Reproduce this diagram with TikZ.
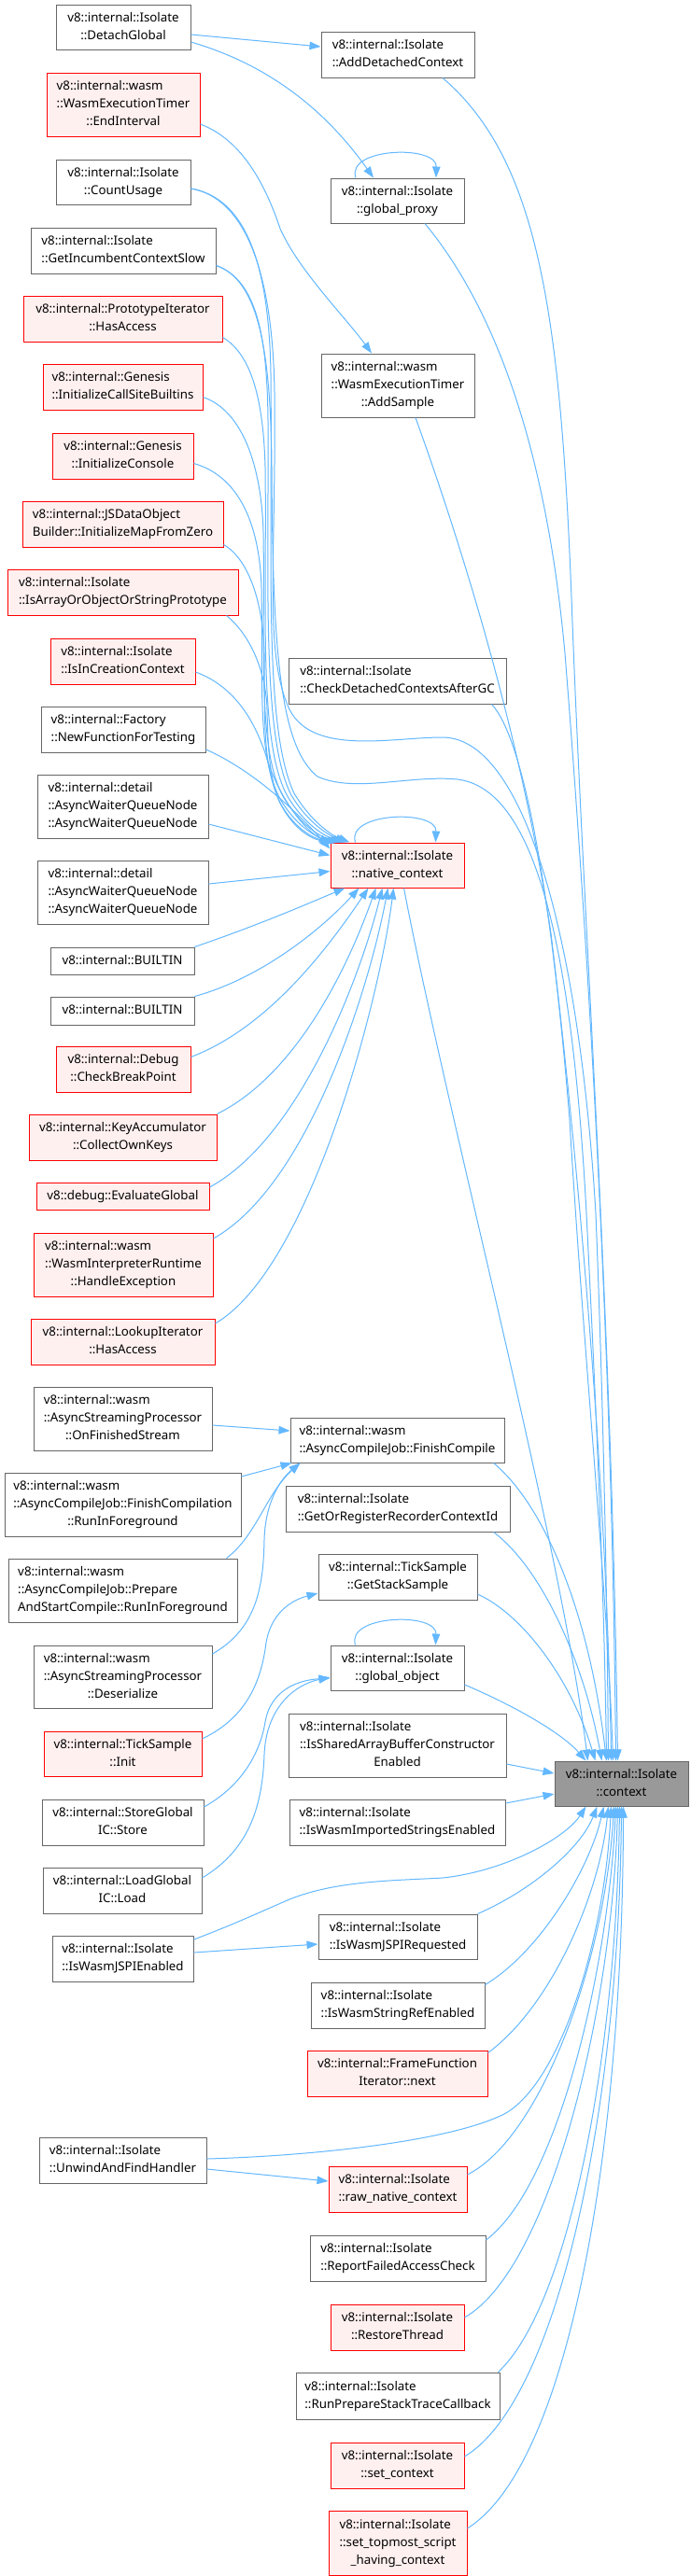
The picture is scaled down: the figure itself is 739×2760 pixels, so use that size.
\documentclass[tikz,border=0pt]{standalone}
\usepackage{fontspec}
\setmainfont{Noto Sans}
\usetikzlibrary{arrows.meta}
\definecolor{edgec}{HTML}{63B8FF}
\definecolor{bordg}{HTML}{666666}
\definecolor{redfill}{HTML}{FFF0F0}
\definecolor{ctxfill}{HTML}{999999}
\newcommand{\tb}[1]{\begin{tabular}{@{}l@{}}#1\end{tabular}}
\newcommand{\lc}[1]{\multicolumn{1}{@{}c@{}}{#1}}
\newcommand{\nd}[6]{\node[#1,minimum width=#4pt,minimum height=#5pt] (#2) at (#3) {\tb{#6}};}
\begin{document}
\begin{tikzpicture}[x=1pt,y=-1pt,
  nb/.style={draw=bordg,fill=white,line width=1pt,inner sep=0pt,font=\fontsize{13.3}{19}\selectfont},
  nr/.style={nb,draw=red,fill=redfill},
  ng/.style={nb,fill=ctxfill},
  ed/.style={draw=edgec,line width=1pt,-{Triangle[length=12pt,width=8.5pt]}}]
\useasboundingbox[fill=white] (0,0) rectangle (739,2760);
% column 1
\nd{nb}{dg}{132,29}{144}{48}{v8::internal::Isolate\\\lc{::DetachGlobal}}
\nd{nr}{ei}{132,112}{164}{68}{v8::internal::wasm\\::WasmExecutionTimer\\\lc{::EndInterval}}
\nd{nb}{cu}{132,195}{144}{48}{v8::internal::Isolate\\\lc{::CountUsage}}
\nd{nb}{gi}{132,268.5}{198}{49}{v8::internal::Isolate\\\lc{::GetIncumbentContextSlow}}
\nd{nr}{pi}{131.5,341.5}{213}{49}{v8::internal::PrototypeIterator\\\lc{::HasAccess}}
\nd{nr}{cs}{131.5,414.5}{171}{49}{v8::internal::Genesis\\\lc{::InitializeCallSiteBuiltins}}
\nd{nr}{ic}{131.5,488.5}{151}{49}{v8::internal::Genesis\\\lc{::InitializeConsole}}
\nd{nr}{jd}{131.5,561.5}{215}{49}{v8::internal::JSDataObject\\\lc{Builder::InitializeMapFromZero}}
\nd{nr}{ia}{131.5,634.5}{247}{49}{v8::internal::Isolate\\\lc{::IsArrayOrObjectOrStringPrototype}}
\nd{nr}{icc}{131.5,708.5}{155}{49}{v8::internal::Isolate\\\lc{::IsInCreationContext}}
\nd{nb}{nf}{132,781.5}{176}{49}{v8::internal::Factory\\\lc{::NewFunctionForTesting}}
\nd{nb}{aw1}{131.5,864}{183}{68}{v8::internal::detail\\::AsyncWaiterQueueNode\\\lc{::AsyncWaiterQueueNode}}
\nd{nb}{aw2}{131.5,956}{183}{68}{v8::internal::detail\\::AsyncWaiterQueueNode\\\lc{::AsyncWaiterQueueNode}}
\nd{nb}{b1}{131,1029.5}{154}{29}{v8::internal::BUILTIN}
\nd{nb}{b2}{131,1083}{154}{30}{v8::internal::BUILTIN}
\nd{nr}{cb}{132,1145.5}{144}{49}{v8::internal::Debug\\\lc{::CheckBreakPoint}}
\nd{nr}{ka}{131.5,1218.5}{201}{49}{v8::internal::KeyAccumulator\\\lc{::CollectOwnKeys}}
\nd{nr}{eg}{131.5,1281.5}{185}{29}{v8::debug::EvaluateGlobal}
\nd{nr}{wi}{132,1355}{192}{68}{v8::internal::wasm\\::WasmInterpreterRuntime\\\lc{::HandleException}}
\nd{nr}{li}{131.5,1437.5}{197}{49}{v8::internal::LookupIterator\\\lc{::HasAccess}}
\nd{nb}{ofs}{131.5,1520}{191}{68}{v8::internal::wasm\\::AsyncStreamingProcessor\\\lc{::OnFinishedStream}}
\nd{nb}{fcr}{131.5,1612}{253}{68}{v8::internal::wasm\\::AsyncCompileJob::FinishCompilation\\\lc{::RunInForeground}}
\nd{nb}{pas}{131.5,1704}{245}{68}{v8::internal::wasm\\::AsyncCompileJob::Prepare\\\lc{AndStartCompile::RunInForeground}}
\nd{nb}{ds}{131.5,1796.5}{191}{67}{v8::internal::wasm\\::AsyncStreamingProcessor\\\lc{::Deserialize}}
\nd{nr}{ti}{131.5,1879}{169}{48}{v8::internal::TickSample\\\lc{::Init}}
\nd{nb}{sg}{131.5,1952.5}{173}{49}{v8::internal::StoreGlobal\\\lc{IC::Store}}
\nd{nb}{lg}{131,2025.5}{170}{49}{v8::internal::LoadGlobal\\\lc{IC::Load}}
\nd{nb}{je}{131.5,2098.5}{151}{49}{v8::internal::Isolate\\\lc{::IsWasmJSPIEnabled}}
\nd{nb}{uf}{131.5,2314.5}{179}{49}{v8::internal::Isolate\\\lc{::UnwindAndFindHandler}}
% column 2
\nd{nb}{ad}{426,58.5}{164}{49}{v8::internal::Isolate\\\lc{::AddDetachedContext}}
\nd{nb}{gp}{425.5,215}{143}{48}{v8::internal::Isolate\\\lc{::global\_proxy}}
\nd{nb}{as}{426,413}{164}{68}{v8::internal::wasm\\::WasmExecutionTimer\\\lc{::AddSample}}
\nd{nb}{cd}{425.5,729.5}{233}{49}{v8::internal::Isolate\\\lc{::CheckDetachedContextsAfterGC}}
\nd{nr}{nc}{425.5,927}{143}{48}{v8::internal::Isolate\\\lc{::native\_context}}
\nd{nb}{fc}{425.5,1543}{229}{48}{v8::internal::wasm\\\lc{::AsyncCompileJob::FinishCompile}}
\nd{nb}{gr}{426,1616.5}{240}{49}{v8::internal::Isolate\\\lc{::GetOrRegisterRecorderContextId}}
\nd{nb}{gs}{426,1689.5}{170}{49}{v8::internal::TickSample\\\lc{::GetStackSample}}
\nd{nb}{go}{425.5,1787}{143}{48}{v8::internal::Isolate\\\lc{::global\_object}}
\nd{nb}{sab}{425.5,1870}{233}{68}{v8::internal::Isolate\\::IsSharedArrayBufferConstructor\\\lc{Enabled}}
\nd{nb}{iws}{425.5,1952.5}{231}{49}{v8::internal::Isolate\\\lc{::IsWasmImportedStringsEnabled}}
\nd{nb}{jr}{426,2075}{170}{48}{v8::internal::Isolate\\\lc{::IsWasmJSPIRequested}}
\nd{nb}{sr}{426,2148.5}{186}{49}{v8::internal::Isolate\\\lc{::IsWasmStringRefEnabled}}
\nd{nr}{ff}{425.5,2221.5}{193}{49}{v8::internal::FrameFunction\\\lc{Iterator::next}}
\nd{nr}{rn}{426,2345.5}{148}{49}{v8::internal::Isolate\\\lc{::raw\_native\_context}}
\nd{nb}{rf}{426,2419.5}{188}{49}{v8::internal::Isolate\\\lc{::ReportFailedAccessCheck}}
\nd{nr}{rt}{425.5,2493.5}{143}{49}{v8::internal::Isolate\\\lc{::RestoreThread}}
\nd{nb}{rp}{426,2567}{218}{50}{v8::internal::Isolate\\\lc{::RunPrepareStackTraceCallback}}
\nd{nr}{sc}{425.5,2641.5}{143}{49}{v8::internal::Isolate\\\lc{::set\_context}}
\nd{nr}{st}{426,2724.5}{148}{69}{v8::internal::Isolate\\::set\_topmost\_script\\\lc{\_having\_context}}
% column 3
\nd{ng}{ctx}{665.5,1911}{143}{48}{v8::internal::Isolate\\\lc{::context}}
% ---------- edges: top part
\draw[ed] ([yshift=-8pt]dg.east) -- ([yshift=8.5pt]ad.west);
\draw[ed] ([yshift=-16pt]dg.east) .. controls (290,70) and (350,120) .. ([xshift=-25.5pt]gp.north);
\draw[ed] ([xshift=-44.5pt]gp.north) .. controls (370,158) and (468,155) .. ([xshift=41.5pt]gp.north);
\draw[ed] ([xshift=48pt]ad.south) .. controls (575,170) and (600,330) .. (612,640) .. controls (625,1000) and (655,1400) .. ([xshift=68pt]ctx.north west);
\draw[ed] ([xshift=29.5pt]gp.south) .. controls (530,330) and (585,480) .. (605,700) .. controls (625,950) and (655,1400) .. ([xshift=66pt]ctx.north west);
\draw[ed] ([yshift=-21pt]ei.east) .. controls (260,150) and (285,200) .. (300,245) .. controls (320,290) and (370,340) .. ([xshift=-28pt]as.north);
\draw[ed] ([xshift=19pt]as.south) .. controls (500,600) and (560,800) .. (590,1000) .. controls (620,1250) and (650,1600) .. ([xshift=61pt]ctx.north west);
\draw[ed] ([xshift=-16pt]cd.south east) .. controls (560,790) and (590,950) .. (610,1200) .. controls (625,1450) and (650,1700) .. ([xshift=63pt]ctx.north west);
% wavy edges to context
\draw[ed] ([yshift=-7pt]cu.east) .. controls (262,212) and (292,290) .. (294,420) .. controls (296,600) and (282,700) .. (310,760) .. controls (335,810) and (420,790) .. (474,790) .. controls (560,790) and (620,1000) .. (638,1300) .. controls (646,1500) and (650,1700) .. ([xshift=58pt]ctx.north west);
\draw[ed] ([yshift=-16pt]gi.east) .. controls (278,300) and (290,380) .. (291,500) .. controls (292,700) and (300,800) .. (340,832) .. controls (380,850) and (440,830) .. (490,835) .. controls (570,845) and (612,1000) .. (628,1300) .. controls (638,1500) and (647,1700) .. ([xshift=56pt]ctx.north west);
% into native_context from above
\draw[ed] ([yshift=-7pt]cu.east) .. controls (262,212) and (288,280) .. (290,400) .. controls (292,600) and (282,780) .. (315,850) .. controls (333,880) and (355,895) .. ([xshift=21pt]nc.north west);
\draw[ed] ([yshift=-16pt]gi.east) .. controls (275,300) and (286,360) .. (287,450) .. controls (288,620) and (280,790) .. (312,852) .. controls (330,882) and (352,895) .. ([xshift=18pt]nc.north west);
\draw[ed] ([yshift=-20pt]pi.east) .. controls (270,380) and (282,430) .. (284,500) .. controls (286,650) and (276,800) .. (309,855) .. controls (327,884) and (348,896) .. ([xshift=15pt]nc.north west);
\draw[ed] ([yshift=-11pt]cs.east) .. controls (260,440) and (280,500) .. (282,570) .. controls (284,700) and (275,810) .. (306,858) .. controls (324,886) and (344,897) .. ([xshift=12pt]nc.north west);
\draw[ed] ([yshift=-8pt]ic.east) .. controls (255,510) and (278,560) .. (280,630) .. controls (282,730) and (274,815) .. (303,861) .. controls (320,887) and (340,898) .. ([xshift=9pt]nc.north west);
\draw[ed] ([yshift=-22pt]jd.east) .. controls (268,600) and (282,650) .. (283,700) .. controls (284,770) and (280,820) .. (301,862) .. controls (316,888) and (336,899) .. ([xshift=6pt]nc.north west);
\draw[ed] ([xshift=-13pt]ia.south east) .. controls (268,680) and (285,720) .. (286,760) .. controls (287,810) and (290,845) .. (303,866) .. controls (315,887) and (332,899) .. ([xshift=3pt]nc.north west);
\draw[ed] ([yshift=-11.5pt]icc.east) .. controls (250,735) and (272,770) .. (285,810) .. controls (295,845) and (320,885) .. ([yshift=-2pt]nc.north west);
\draw[ed] ([yshift=-21.5pt]nf.east) .. controls (255,818) and (300,850) .. ([yshift=-7pt]nc.north west);
\draw[ed] ([yshift=-19pt]aw1.east) -- ([yshift=-14pt]nc.north west);
\draw[ed] ([yshift=9pt]aw2.east) -- ([yshift=-31pt]nc.north west);
\draw[ed] ([xshift=27pt]nc.north west) .. controls (370,870) and (468,867) .. ([xshift=113pt]nc.north west);
% into native_context from below
\draw[ed] (b1.north east) .. controls (280,990) and (330,968) .. ([xshift=16pt]nc.south west);
\draw[ed] (b2.north east) .. controls (280,1048) and (345,995) .. ([xshift=31pt]nc.south west);
\draw[ed] ([yshift=13pt]cb.east) .. controls (290,1100) and (355,1010) .. ([xshift=41pt]nc.south west);
\draw[ed] (ka.north east) .. controls (320,1150) and (375,1030) .. ([xshift=49pt]nc.south west);
\draw[ed] ([yshift=9.5pt]eg.east) .. controls (320,1220) and (385,1050) .. ([xshift=56pt]nc.south west);
\draw[ed] ([yshift=28pt]wi.east) .. controls (330,1270) and (395,1060) .. ([xshift=62pt]nc.south west);
\draw[ed] ([yshift=19.5pt]li.east) .. controls (330,1360) and (405,1080) .. ([xshift=68pt]nc.south west);
\draw[ed] ([xshift=79pt]nc.south west) .. controls (480,1200) and (600,1650) .. ([xshift=36pt]ctx.north west);
% middle part
\draw[ed] ([yshift=-7pt]ofs.east) -- ([yshift=10pt]fc.west);
\draw[ed] ([yshift=30pt]fcr.east) -- ([xshift=2pt]fc.south west);
\draw[ed] ([xshift=-12pt]pas.north east) .. controls (275,1645) and (285,1600) .. ([xshift=11pt]fc.south west);
\draw[ed] ([yshift=24.5pt]ds.east) .. controls (275,1745) and (282,1700) .. (283,1650) .. controls (284,1610) and (300,1585) .. ([xshift=11pt]fc.south west);
\draw[ed] ([xshift=-12pt]fc.south east) .. controls (580,1610) and (630,1720) .. ([xshift=56pt]ctx.north west);
\draw[ed] ([xshift=-18pt]gr.south east) .. controls (580,1680) and (625,1780) .. ([xshift=51pt]ctx.north west);
\draw[ed] ([yshift=16pt]ti.east) .. controls (265,1840) and (280,1800) .. (285,1760) .. controls (290,1730) and (310,1715) .. ([yshift=-17.5pt]gs.west);
\draw[ed] ([yshift=-18.5pt]gs.east) .. controls (560,1730) and (612,1800) .. ([xshift=44pt]ctx.north west);
\draw[ed] ([yshift=16.5pt]sg.east) .. controls (265,1910) and (280,1870) .. (284,1845) .. controls (290,1810) and (320,1800) .. ([yshift=-11pt]go.west);
\draw[ed] ([yshift=13.5pt]lg.east) .. controls (270,1980) and (281,1930) .. (283,1880) .. controls (285,1830) and (315,1805) .. ([yshift=-10pt]go.west);
\draw[ed] ([xshift=27pt]go.north west) .. controls (370,1730) and (468,1727) .. ([xshift=113pt]go.north west);
\draw[ed] ([yshift=-18pt]go.east) .. controls (545,1825) and (600,1855) .. ([xshift=34pt]ctx.north west);
\draw[ed] ([yshift=-20pt]sab.east) -- ([yshift=11pt]ctx.west);
\draw[ed] ([yshift=20.5pt]iws.east) -- ([yshift=-11pt]ctx.west);
% lower part
\draw[ed] ([yshift=20.5pt]je.east) .. controls (250,2062) and (280,2048) .. (310,2035) .. controls (360,2015) and (420,2015) .. (474,2012) .. controls (540,2005) and (605,1970) .. ([xshift=34pt]ctx.south west);
\draw[ed] ([yshift=6.5pt]je.east) -- ([yshift=-8pt]jr.west);
\draw[ed] (jr.north east) .. controls (570,2025) and (622,1980) .. ([xshift=46pt]ctx.south west);
\draw[ed] ([yshift=-3pt]sr.north east) .. controls (580,2090) and (632,2000) .. ([xshift=53pt]ctx.south west);
\draw[ed] ([yshift=-3pt]ff.north east) .. controls (590,2150) and (642,2030) .. ([xshift=58pt]ctx.south west);
\draw[ed] ([yshift=1.5pt]uf.east) .. controls (330,2310) and (480,2295) .. (540,2265) .. controls (600,2232) and (647,2080) .. ([xshift=61pt]ctx.south west);
\draw[ed] ([yshift=-9.5pt]uf.east) -- ([yshift=8.5pt]rn.west);
\draw[ed] ([yshift=15.5pt]rn.east) .. controls (580,2290) and (648,2100) .. ([xshift=64pt]ctx.south west);
\draw[ed] ([yshift=19.5pt]rf.east) .. controls (600,2340) and (652,2100) .. ([xshift=66pt]ctx.south west);
\draw[ed] ([yshift=10.5pt]rt.east) .. controls (590,2430) and (656,2150) .. ([xshift=68pt]ctx.south west);
\draw[ed] ([xshift=-2pt]rp.north east) .. controls (610,2470) and (660,2200) .. ([xshift=70pt]ctx.south west);
\draw[ed] ([yshift=9.5pt]sc.east) .. controls (600,2570) and (663,2250) .. ([xshift=72pt]ctx.south west);
\draw[ed] ([yshift=15.5pt]st.east) .. controls (610,2640) and (667,2300) .. ([xshift=74pt]ctx.south west);
\end{tikzpicture}
\end{document}
